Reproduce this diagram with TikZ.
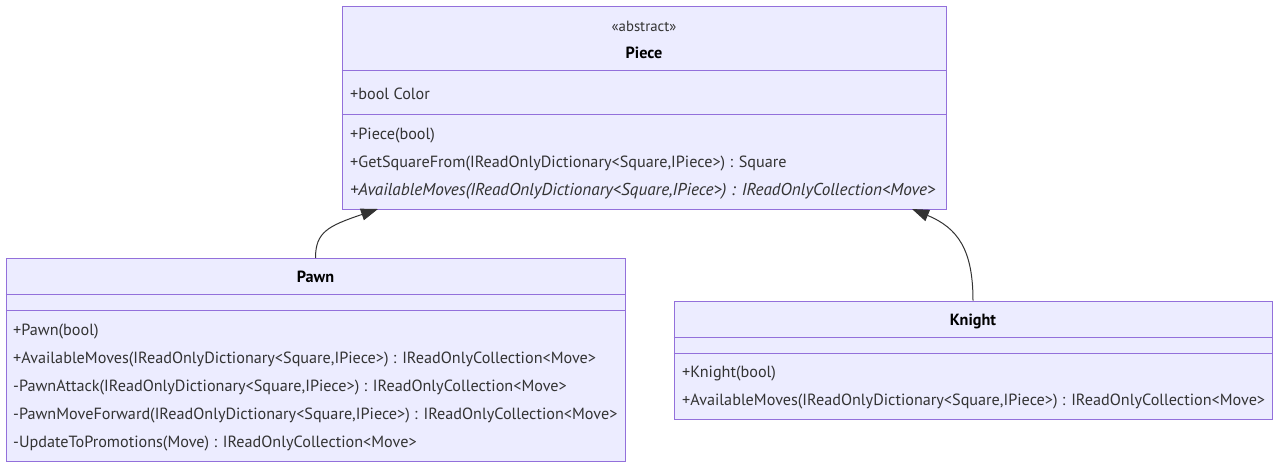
\documentclass[tikz,border=0pt]{standalone}
\usepackage{fontspec}
\setmainfont{PT Sans}
\usetikzlibrary{arrows.meta}
\definecolor{boxfill}{HTML}{ECECFF}
\definecolor{boxline}{HTML}{9370DB}
\definecolor{ink}{HTML}{333333}
\def\memfont{\fontsize{16.2}{18}\selectfont}

\begin{document}
\begin{tikzpicture}[x=1pt,y=-1pt,
  classbox/.style={draw=boxline,fill=boxfill,line width=1pt,inner sep=0pt},
  divider/.style={draw=boxline,line width=1pt},
  member/.style={anchor=base west,inner sep=0pt,text=ink,font=\memfont},
  title/.style={anchor=base,inner sep=0pt,text=black,font=\memfont\bfseries},
  inherit/.style={draw=ink,line width=1pt,-{Triangle[length=17pt,width=12pt]}}]
  \useasboundingbox (0,0) rectangle (1278,467);
  \node[classbox,minimum width=604pt,minimum height=203pt] (piece) at (644,107.5) {};
  \node[classbox,minimum width=619pt,minimum height=203pt] (pawn) at (315.5,360) {};
  \node[classbox,minimum width=598pt,minimum height=118pt] (knight) at (973,360) {};
  \draw[divider] (piece.west |- 0,70) -- (piece.east |- 0,70);
  \draw[divider] (piece.west |- 0,114) -- (piece.east |- 0,114);
  \draw[divider] (pawn.west |- 0,294) -- (pawn.east |- 0,294);
  \draw[divider] (pawn.west |- 0,310) -- (pawn.east |- 0,310);
  \draw[divider] (knight.west |- 0,337) -- (knight.east |- 0,337);
  \draw[divider] (knight.west |- 0,353) -- (knight.east |- 0,353);
  \node[anchor=base,inner sep=0pt,text=ink,font=\fontsize{14.8}{16}\selectfont] (pieceabs) at (644,31) {«abstract»};
  \node[title] (piecename) at (644,58) {Piece};
  \node[title] (pawnname) at (315.5,282) {Pawn};
  \node[title] (knightname) at (973,325) {Knight};
  \node[member] (pattr) at (350,99) {+bool Color};
  \foreach \i/\y/\t in {1/139/{+Piece(bool)},2/167/{+GetSquareFrom(IReadOnlyDictionary<Square,IPiece>) : Square}}
    \node[member] (pm\i) at (350,\y) {\t};
  \node[member,font=\fontsize{17.2}{18}\selectfont\itshape] (pm3) at (350,195) {+AvailableMoves(IReadOnlyDictionary<Square,IPiece>) : IReadOnlyCollection<Move>};
  \foreach \i/\y/\t in {1/335/{+Pawn(bool)},2/363/{+AvailableMoves(IReadOnlyDictionary<Square,IPiece>) : IReadOnlyCollection<Move>},
    3/391/{-PawnAttack(IReadOnlyDictionary<Square,IPiece>) : IReadOnlyCollection<Move>},
    4/419/{-PawnMoveForward(IReadOnlyDictionary<Square,IPiece>) : IReadOnlyCollection<Move>},
    5/447/{-UpdateToPromotions(Move) : IReadOnlyCollection<Move>}}
    \node[member] (wm\i) at (13,\y) {\t};
  \foreach \i/\y/\t in {1/377/{+Knight(bool)},2/405/{+AvailableMoves(IReadOnlyDictionary<Square,IPiece>) : IReadOnlyCollection<Move>}}
    \node[member] (km\i) at (682,\y) {\t};
  \coordinate (pieceL) at (378,209);
  \coordinate (pieceR) at (912,209);
  \draw[inherit] (pawn.north) .. controls (315.5,232) and (328,226) .. (pieceL);
  \draw[inherit] (knight.north) .. controls (973,250) and (958,228) .. (pieceR);
\end{tikzpicture}
\end{document}
